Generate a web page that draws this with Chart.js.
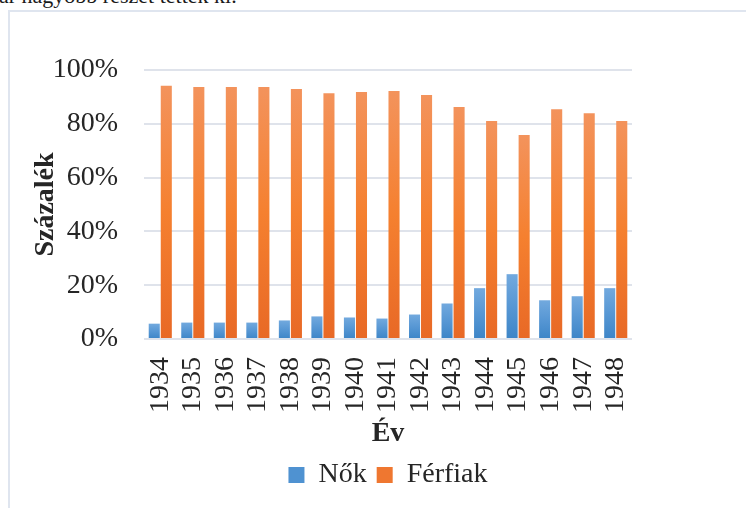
<!DOCTYPE html>
<html>
<head>
<meta charset="utf-8">
<script src="https://cdn.jsdelivr.net/npm/chart.js@4/dist/chart.umd.min.js"></script>
<style>
  html, body { margin: 0; padding: 0; background: #fff; overflow: hidden; }
  body { width: 746px; height: 508px; position: relative; }
  #intro {
    position: absolute; left: -1px; top: -15px; white-space: nowrap;
    font-family: "Liberation Serif", serif; font-size: 22px; line-height: 22px; color: #1a1a1a;
  }
  #frame {
    position: absolute; left: 8px; top: 10px; width: 760px; height: 520px;
    border-left: 2px solid #dfe5ef; border-top: 2px solid #dfe5ef;
  }
  #wrap { position: absolute; left: 0; top: 0; width: 746px; height: 508px; }
</style>
</head>
<body>
<div id="intro">ar nagyobb részét tették ki.</div>
<div id="frame"></div>
<div id="wrap"><canvas id="chart"></canvas></div>
<script>
// Years and shares (percent)
const years = ['1934', '1935', '1936', '1937', '1938', '1939', '1940', '1941',
  '1942', '1943', '1944', '1945', '1946', '1947', '1948'];
const nok = [5.7, 6.1, 6.1, 6.1, 6.9, 8.4, 8.0, 7.6, 9.1, 13.2, 18.9, 24.1, 14.4, 15.9, 18.9];
const ferfiak = [94.1, 93.7, 93.7, 93.7, 92.9, 91.4, 91.8, 92.2, 90.7, 86.2, 81.0, 75.8, 85.4, 83.9, 81.0];
const yTicks = [0, 20, 40, 60, 80, 100];

const serif = '"Liberation Serif", "Times New Roman", serif';
const textColor = '#262626';
const gridColor = '#dfe3eb';

// Gradient that runs from the top of each bar to its bottom
function barFill(light, mid, dark) {
  return function (context) {
    const chart = context.chart;
    const yScale = chart.scales.y;
    if (!chart.chartArea || !yScale || !context.parsed) return mid;
    const top = yScale.getPixelForValue(context.parsed.y);
    const bottom = yScale.getPixelForValue(0);
    if (!isFinite(top) || bottom - top < 1) return mid;
    const g = chart.ctx.createLinearGradient(0, top, 0, bottom);
    g.addColorStop(0, light);
    g.addColorStop(0.5, mid);
    g.addColorStop(1, dark);
    return g;
  };
}

const ctx = document.getElementById('chart').getContext('2d');
const chart = new Chart(ctx, {
  type: 'bar',
  data: {
    labels: years,
    datasets: [
      {
        label: 'Nők',
        data: nok,
        backgroundColor: barFill('#72a9de', '#5797d4', '#3d85c7'),
        categoryPercentage: 0.74,
        barPercentage: 0.92
      },
      {
        label: 'Férfiak',
        data: ferfiak,
        backgroundColor: barFill('#f3935c', '#f5802f', '#e86926'),
        categoryPercentage: 0.74,
        barPercentage: 0.92
      }
    ]
  },
  options: {
    responsive: true,
    maintainAspectRatio: false,
    animation: false,
    layout: { padding: { top: 70, left: 0, right: 114, bottom: 9 } },
    plugins: {
      tooltip: { enabled: false },
      legend: {
        position: 'bottom',
        fullSize: false,
        labels: {
          color: textColor,
          font: { family: serif, size: 28 },
          boxWidth: 16,
          boxHeight: 16,
          padding: 10,
          generateLabels(c) {
            return c.data.datasets.map((ds, i) => ({
              text: ds.label,
              fillStyle: i === 0 ? '#4f92d1' : '#ef7730',
              strokeStyle: 'rgba(0,0,0,0)',
              lineWidth: 0,
              fontColor: textColor,
              datasetIndex: i
            }));
          }
        }
      }
    },
    scales: {
      x: {
        grid: { display: false, drawTicks: false },
        border: { display: false },
        ticks: {
          color: textColor,
          font: { family: serif, size: 28 },
          minRotation: 90,
          maxRotation: 90,
          padding: 18,
          autoSkip: false
        },
        title: {
          display: true,
          text: 'Év',
          color: textColor,
          font: { family: serif, size: 28, weight: 'bold' },
          padding: { top: 0, bottom: 0 }
        },
        afterFit(scale) { scale.height = 112; }
      },
      y: {
        min: 0,
        max: 100,
        afterBuildTicks(scale) { scale.ticks = yTicks.map(v => ({ value: v })); },
        grid: { color: gridColor, lineWidth: 2, drawTicks: false },
        border: { display: false },
        ticks: {
          color: textColor,
          font: { family: serif, size: 28 },
          padding: 26,
          callback: v => v + '%'
        },
        title: {
          display: true,
          text: 'Százalék',
          color: textColor,
          font: { family: serif, size: 28, weight: 'bold' },
          padding: { top: 29, bottom: 0 }
        },
        afterFit(scale) { scale.width = 144; }
      }
    }
  }
});
</script>
</body>
</html>
